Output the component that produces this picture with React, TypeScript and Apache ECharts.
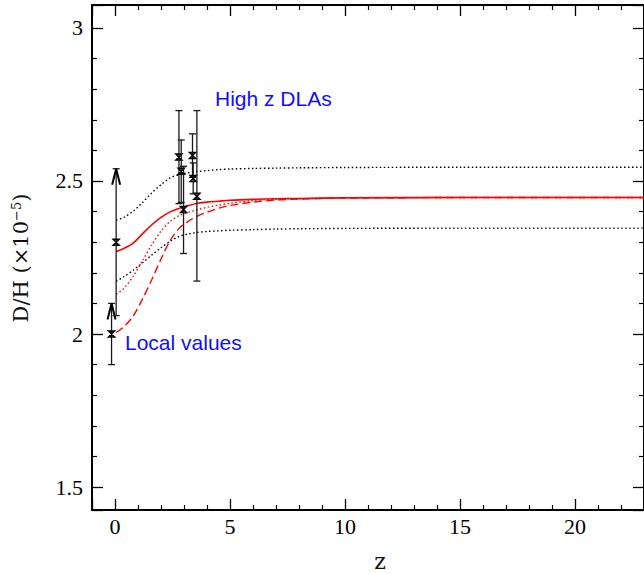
import React, { useEffect, useRef } from 'react';
import * as echarts from 'echarts';

// redshift grid for the model curves
const curveZ = [0.05, 0.4, 0.8, 1.2, 1.6, 2.0, 2.4, 2.8, 3.2, 3.6, 4.0, 4.5, 5, 6, 7, 8, 10, 15, 23];
const blackUpper = [2.371, 2.382, 2.402, 2.43, 2.461, 2.488, 2.51, 2.521, 2.527, 2.531, 2.534, 2.537, 2.539, 2.541, 2.542, 2.543, 2.544, 2.545, 2.545];
const blackLower = [2.172, 2.188, 2.209, 2.233, 2.258, 2.282, 2.303, 2.319, 2.327, 2.332, 2.335, 2.337, 2.339, 2.341, 2.343, 2.344, 2.345, 2.346, 2.346];
const redSolid = [2.269, 2.28, 2.298, 2.328, 2.357, 2.381, 2.399, 2.411, 2.42, 2.427, 2.431, 2.434, 2.437, 2.44, 2.442, 2.443, 2.445, 2.446, 2.446];
const redDotted = [2.13, 2.15, 2.19, 2.24, 2.292, 2.336, 2.368, 2.387, 2.398, 2.406, 2.414, 2.421, 2.427, 2.436, 2.44, 2.442, 2.444, 2.446, 2.446];
const redDashed = [2.005, 2.025, 2.06, 2.115, 2.178, 2.245, 2.306, 2.346, 2.369, 2.386, 2.398, 2.411, 2.42, 2.431, 2.438, 2.441, 2.444, 2.446, 2.446];

// local measurements (lower limits, drawn with arrows)
const localZ = [-0.15, 0.05];
const localDH = [2.0, 2.3];
const localLow = [1.9, 2.06];
const localHigh = [2.1, 2.54];

// high-z DLA measurements
const dlaZ = [2.78, 2.88, 2.98, 3.37, 3.4, 3.56];
const dlaDH = [2.578, 2.532, 2.407, 2.583, 2.508, 2.45];
const dlaLow = [2.426, 2.43, 2.263, 2.512, 2.458, 2.173];
const dlaHigh = [2.73, 2.634, 2.548, 2.654, 2.559, 2.73];

const xTicksMajor = 5;
const yTicksMajor = 0.5;

const SERIF = "'Liberation Serif', 'DejaVu Serif', serif";
const TITLE = "'DejaVu Serif', serif";

function makeAxis(pos: string, isX: boolean, showLabel: boolean) {
  return {
    type: 'value',
    position: pos,
    min: isX ? -1 : 1.425,
    max: isX ? 23 : 3.075,
    minInterval: isX ? xTicksMajor : yTicksMajor,
    maxInterval: isX ? xTicksMajor : yTicksMajor,
    splitNumber: 5,
    axisLine: { show: true, onZero: false, lineStyle: { color: '#000', width: 2 } },
    axisTick: { show: true, inside: true, length: 11, lineStyle: { color: '#000', width: 1.3 } },
    minorTick: { show: true, splitNumber: 5, length: 5, lineStyle: { color: '#000', width: 1.2 } },
    splitLine: { show: false },
    minorSplitLine: { show: false },
    axisLabel: {
      show: showLabel,
      showMinLabel: false,
      showMaxLabel: false,
      margin: isX ? 5 : 9,
      fontFamily: SERIF,
      fontSize: 22,
      color: '#000',
    },
  };
}

function curve(ys: number[], color: string, type: any, width = 1.4) {
  return {
    type: 'line',
    data: curveZ.map((z, i) => [z, ys[i]]),
    showSymbol: false,
    smooth: 0.3,
    lineStyle: { color, type, width },
    z: 2,
  };
}

function errorSeries(zs: number[], vs: number[], lo: number[], hi: number[], arrow: number) {
  return {
    type: 'custom',
    data: zs.map((z, i) => [z, vs[i], lo[i], hi[i], arrow]),
    encode: { x: 0, y: 1 },
    z: 3,
    renderItem: (params: any, api: any) => {
      const p = api.coord([api.value(0), api.value(1)]);
      const pl = api.coord([api.value(0), api.value(2)]);
      const ph = api.coord([api.value(0), api.value(3)]);
      const style = { stroke: '#1a1a1a', lineWidth: 1.3, fill: 'none' };
      const x = p[0];
      const children: any[] = [
        { type: 'line', shape: { x1: x, y1: pl[1], x2: x, y2: ph[1] }, style },
        { type: 'line', shape: { x1: x - 3.5, y1: pl[1], x2: x + 3.5, y2: pl[1] }, style },
        { type: 'line', shape: { x1: x - 3.5, y1: ph[1], x2: x + 3.5, y2: ph[1] }, style },
        {
          type: 'polygon',
          shape: { points: [[x - 3, p[1] - 3], [x + 3, p[1] - 3], [x - 3, p[1] + 3], [x + 3, p[1] + 3]] },
          style: { stroke: '#000', lineWidth: 1.5, fill: 'none' },
        },
      ];
      if (api.value(4)) {
        children.push({
          type: 'polyline',
          shape: { points: [[x - 4, ph[1] + 16], [x, ph[1]], [x + 4, ph[1] + 16]] },
          style: { stroke: '#000', lineWidth: 2, fill: 'none' },
        });
      }
      return { type: 'group', children };
    },
  };
}

export default function App() {
  const ref = useRef<HTMLDivElement>(null);
  useEffect(() => {
    const chart = echarts.init(ref.current!, null, { renderer: 'svg' });
    const option: any = {
      animation: false,
      backgroundColor: '#fff',
      grid: { left: 92, top: 5, right: -10, bottom: 64, containLabel: false },
      xAxis: [makeAxis('bottom', true, true), makeAxis('top', true, false)],
      yAxis: [makeAxis('left', false, true), makeAxis('right', false, false)],
      series: [
        curve(blackUpper, '#000', [1.5, 2.5], 1.4),
        curve(blackLower, '#000', [1.5, 2.5], 1.4),
        curve(redDotted, '#ff0000', [1.5, 2.5], 1.4),
        curve(redDashed, '#ff0000', [8, 4], 1.4),
        curve(redSolid, '#ff0000', 'solid', 1.6),
        errorSeries(localZ, localDH, localLow, localHigh, 1),
        errorSeries(dlaZ, dlaDH, dlaLow, dlaHigh, 0),
      ],
      graphic: [
        {
          type: 'text',
          x: 215,
          y: 98,
          style: { text: 'High z DLAs', fill: '#1010ff', font: '21px "Liberation Sans"', verticalAlign: 'middle' },
        },
        {
          type: 'text',
          x: 125,
          y: 342,
          style: { text: 'Local values', fill: '#1010ff', font: '21px "Liberation Sans"', verticalAlign: 'middle' },
        },
        {
          type: 'text',
          x: 21,
          y: 258,
          rotation: Math.PI / 2,
          style: {
            text: '{a|D/H (×10}{b|−5}{a|)}',
            align: 'center',
            verticalAlign: 'middle',
            rich: {
              a: { fontFamily: TITLE, fontSize: 21, fill: '#111' },
              b: { fontFamily: TITLE, fontSize: 13, fill: '#111', padding: [0, 0, 10, 0] },
            },
          },
        },
        {
          type: 'text',
          x: 380,
          y: 561,
          style: { text: 'z', fill: '#111', font: "22px 'DejaVu Serif'", align: 'center', verticalAlign: 'middle' },
        },
      ],
    };
    chart.setOption(option);
    return () => chart.dispose();
  }, []);
  return (
    <div
      ref={ref}
      style={{ position: 'fixed', left: 0, top: 0, width: 644, height: 574, background: '#fff' }}
    />
  );
}
